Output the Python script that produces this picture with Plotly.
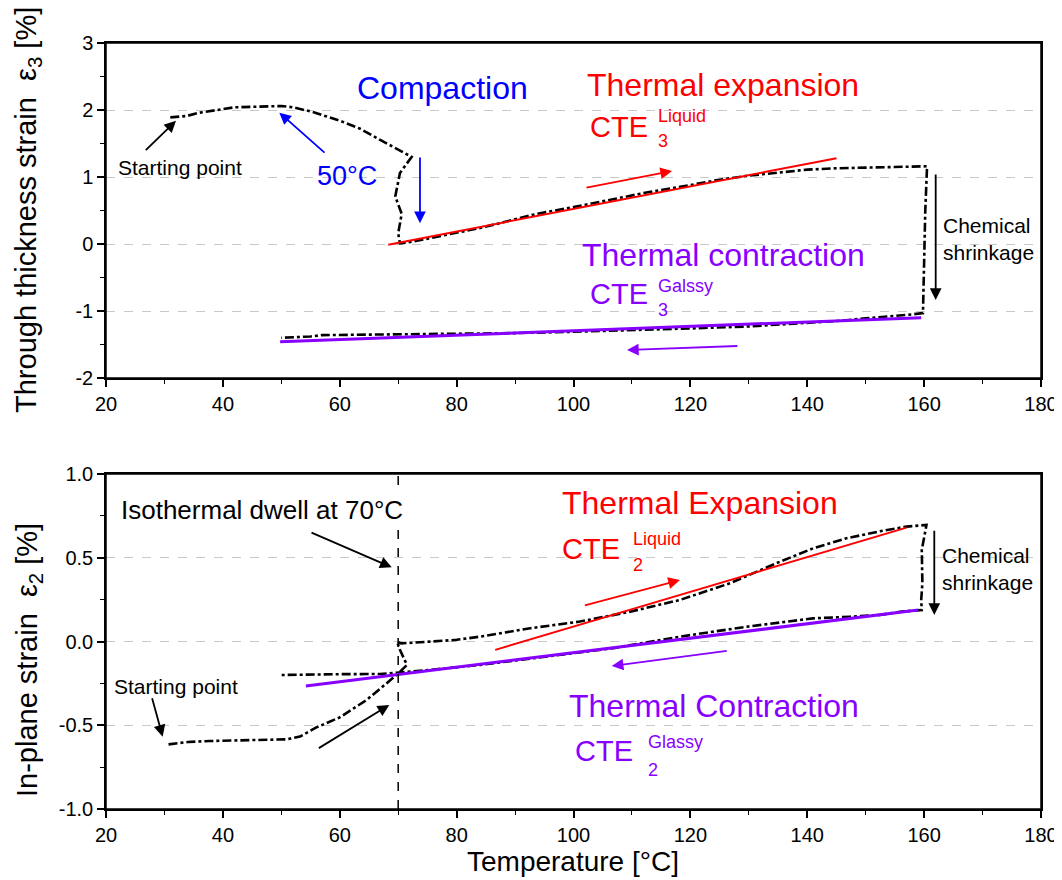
import plotly.graph_objects as go

# ---------------- data ----------------
# Top panel: through-thickness strain eps3 (heating, dwell, cure, cooling)
top_T = [31, 33.8, 36, 38.9, 42, 46, 50, 52, 55.4, 60, 63.5, 67, 70.3, 72.3,
         70.3, 69.5, 70.6, 70.0, 70.3, 71.4, 75, 80, 84.6, 90, 93.7, 100, 104,
         110, 112, 120, 125, 130, 135, 140, 145, 150, 155, 160.5,
         160.2, 160.0, 159.8, 158, 155, 150, 145, 140, 130, 120, 110, 100, 90,
         80, 70, 60, 57, 55, 50]
top_E = [1.89, 1.91, 1.96, 2.00, 2.04, 2.05, 2.06, 2.04, 1.97, 1.84, 1.72, 1.55, 1.40, 1.30,
         1.06, 0.71, 0.45, 0.16, 0.01, 0.02, 0.08, 0.17, 0.25, 0.37, 0.45, 0.55, 0.62,
         0.72, 0.76, 0.88, 0.96, 1.02, 1.07, 1.11, 1.13, 1.14, 1.15, 1.16,
         0.50, -0.20, -1.03, -1.05, -1.07, -1.11, -1.15, -1.18, -1.23, -1.26, -1.29, -1.31, -1.33,
         -1.34, -1.35, -1.36, -1.36, -1.38, -1.40]

# Bottom panel: in-plane strain eps2
bot_T = [30.7, 34, 37.8, 42, 45.2, 50.9, 53.2, 56, 60, 64.6, 68, 69.7, 71.5, 70.3,
         69.8, 70.5, 75.4, 80, 84, 92.6, 101.1, 109.7, 118.2, 126.8, 135.3, 141,
         146.7, 153, 157, 160.4, 159.6, 159.7, 159.5, 159.6, 155.9, 152.4, 147.3,
         141, 129.6, 118.2, 106.8, 95.4, 84, 75.4, 69.7, 66.9, 60, 55, 49.8]
bot_E = [-0.614, -0.60, -0.594, -0.59, -0.588, -0.584, -0.568, -0.513, -0.453, -0.349,
         -0.25, -0.20, -0.14, -0.05, 0.0, -0.011, -0.001, 0.01, 0.029, 0.079, 0.119,
         0.178, 0.248, 0.348, 0.476, 0.556, 0.616, 0.662, 0.686, 0.696, 0.546, 0.347,
         0.248, 0.188, 0.178, 0.158, 0.148, 0.138, 0.088, 0.029, -0.04, -0.09, -0.14,
         -0.17, -0.186, -0.194, -0.195, -0.198, -0.20]

# Linear CTE fits
top_liq_T = [68.3, 145.0]
top_liq_E = [-0.01, 1.28]
top_gla_T = [49.8, 159.5]
top_gla_E = [-1.46, -1.10]
bot_liq_T = [86.6, 157.0]
bot_liq_E = [-0.05, 0.68]
bot_gla_T = [54.2, 159.0]
bot_gla_E = [-0.265, 0.188]

dwell_T = 70

x_ticks = [20, 40, 60, 80, 100, 120, 140, 160, 180]
top_yticks = [-2, -1, 0, 1, 2, 3]
top_ytext = ["-2", "-1", "0", "1", "2", "3"]
bot_yticks = [-1.0, -0.5, 0.0, 0.5, 1.0]
bot_ytext = ["-1.0", "-0.5", "0.0", "0.5", "1.0"]

RED = "#FF0000"
BLUE = "#0000FF"
PURPLE = "#8800FF"
FONT = "Liberation Sans, Arial, sans-serif"

fig = go.Figure()

curve_line = dict(color="black", width=2.6, dash="dashdot")
fig.add_trace(go.Scatter(x=top_T, y=top_E, mode="lines", line=curve_line, xaxis="x", yaxis="y"))
fig.add_trace(go.Scatter(x=top_liq_T, y=top_liq_E, mode="lines", line=dict(color=RED, width=2), xaxis="x", yaxis="y"))
fig.add_trace(go.Scatter(x=top_gla_T, y=top_gla_E, mode="lines", line=dict(color=PURPLE, width=3), xaxis="x", yaxis="y"))

fig.add_trace(go.Scatter(x=bot_T, y=bot_E, mode="lines", line=curve_line, xaxis="x2", yaxis="y2"))
fig.add_trace(go.Scatter(x=bot_liq_T, y=bot_liq_E, mode="lines", line=dict(color=RED, width=2), xaxis="x2", yaxis="y2"))
fig.add_trace(go.Scatter(x=bot_gla_T, y=bot_gla_E, mode="lines", line=dict(color=PURPLE, width=3), xaxis="x2", yaxis="y2"))

# page has an 8px body margin: figure starts at window pixel (8, 8)
OFF = 8
W, H = 1062 - OFF, 880 - OFF

def px(x):
    return (x - OFF) / W

def py(y):
    return 1 - (y - OFF) / H

xdom = [px(106), px(1041)]
top_dom = [py(378), py(43)]
bot_dom = [py(809), py(474)]

tickfont = dict(family=FONT, size=20, color="black")

def xaxis(anchor):
    return dict(domain=xdom, anchor=anchor, range=[20, 180], tickmode="array",
                tickvals=x_ticks, ticktext=[str(v) for v in x_ticks], automargin=False,
                ticklabeloverflow="allow",
                showline=True, linecolor="black", linewidth=1.5, mirror=True,
                ticks="outside", ticklen=7, tickwidth=1.5, tickcolor="black",
                showgrid=False, zeroline=False, tickfont=tickfont,
                minor=dict(tickmode="linear", tick0=0, dtick=10, ticks="outside",
                           ticklen=4, tickwidth=1.2, tickcolor="black", showgrid=False))

def yaxis(anchor, dom, rng, tv, tt, mdt):
    return dict(domain=dom, anchor=anchor, range=rng, tickmode="array",
                tickvals=tv, ticktext=tt, automargin=False,
                ticklabeloverflow="allow",
                showline=True, linecolor="black", linewidth=1.5, mirror=True,
                ticks="outside", ticklen=7, tickwidth=1.5, tickcolor="black",
                showgrid=True, gridcolor="#C8C8C8", griddash="dash", gridwidth=1,
                zeroline=False, tickfont=tickfont,
                minor=dict(tickmode="linear", tick0=0, dtick=mdt, ticks="outside",
                           ticklen=4, tickwidth=1.2, tickcolor="black", showgrid=False))

annotations = []

def txt(x, y, text, color="black", size=21, xref="x", yref="y", xanchor="center", **kw):
    d = dict(x=x, y=y, xref=xref, yref=yref, text=text, showarrow=False,
             font=dict(family=FONT, size=size, color=color), xanchor=xanchor,
             yanchor="middle")
    d.update(kw)
    annotations.append(d)

def arrow(x0, y0, x1, y1, color="black", xref="x", yref="y", width=1.8):
    annotations.append(dict(x=x1, y=y1, ax=x0, ay=y0, xref=xref, yref=yref,
                            axref=xref, ayref=yref, text="", showarrow=True,
                            arrowhead=2, arrowsize=1.3, arrowwidth=width,
                            arrowcolor=color, standoff=0, startstandoff=0))

BIG = 32
# ---- top panel texts ----
txt(77.5, 2.33, "Compaction", BLUE, BIG)
txt(125.6, 2.37, "Thermal expansion", RED, BIG)
txt(107.8, 1.74, "CTE", RED, 29)
txt(114.1, 1.91, "Liquid", RED, 18, xanchor="left")
txt(114.1, 1.53, "3", RED, 18, xanchor="left")
txt(125.75, -0.16, "Thermal contraction", PURPLE, BIG)
txt(107.8, -0.75, "CTE", PURPLE, 29)
txt(114.2, -0.62, "Galssy", PURPLE, 18, xanchor="left")
txt(114.2, -0.99, "3", PURPLE, 18, xanchor="left")
txt(32.7, 1.14, "Starting point", "black", 21)
txt(61.2, 1.02, "50°C", BLUE, 27)
txt(162.9, 0.07, "Chemical<br>shrinkage", "black", 21, xanchor="left", align="left")

arrow(26.55, 1.378, 31.98, 1.84)
arrow(57.65, 1.343, 49.66, 1.96, BLUE)
arrow(73.73, 1.313, 73.73, 0.309, BLUE)
arrow(101.97, 0.836, 116.86, 1.09, RED)
arrow(128.3, -1.522, 109.15, -1.582, PURPLE)
arrow(161.98, 1.06, 161.98, -0.836)

# ---- bottom panel texts ----
txt(46.7, 0.785, "Isothermal dwell at 70°C", "black", 26, xref="x2", yref="y2",
    bgcolor="white")
txt(121.6, 0.827, "Thermal Expansion", RED, BIG, xref="x2", yref="y2")
txt(103.0, 0.55, "CTE", RED, 29, xref="x2", yref="y2")
txt(109.9, 0.61, "Liquid", RED, 18, xref="x2", yref="y2", xanchor="left")
txt(109.9, 0.455, "2", RED, 18, xref="x2", yref="y2", xanchor="left")
txt(124.0, -0.385, "Thermal Contraction", PURPLE, BIG, xref="x2", yref="y2")
txt(105.2, -0.655, "CTE", PURPLE, 29, xref="x2", yref="y2")
txt(112.4, -0.6, "Glassy", PURPLE, 18, xref="x2", yref="y2", xanchor="left")
txt(112.4, -0.768, "2", PURPLE, 18, xref="x2", yref="y2", xanchor="left")
txt(32.0, -0.266, "Starting point", "black", 21, xref="x2", yref="y2")
txt(162.7, 0.435, "Chemical<br>shrinkage", "black", 21, xref="x2", yref="y2",
    xanchor="left", align="left")

arrow(54.91, 0.654, 68.89, 0.443, xref="x2", yref="y2")
arrow(27.82, -0.33, 29.70, -0.568, xref="x2", yref="y2")
arrow(56.16, -0.642, 68.48, -0.379, xref="x2", yref="y2")
arrow(101.68, 0.214, 118.22, 0.367, RED, xref="x2", yref="y2")
arrow(126.49, -0.055, 106.54, -0.146, PURPLE, xref="x2", yref="y2")
arrow(161.74, 0.67, 161.74, 0.158, xref="x2", yref="y2")

# ---- axis titles ----
txt(px(28), py(210), "Through thickness strain  ε<sub>3</sub> [%]", "black", 29,
    xref="paper", yref="paper", textangle=-90)
txt(px(29), py(660), "In-plane strain  ε<sub>2</sub> [%]", "black", 29,
    xref="paper", yref="paper", textangle=-90)
txt(px(573), py(861), "Temperature [°C]", "black", 28, xref="paper", yref="paper")

frame = dict(color="black", width=1.5)
shapes = [dict(type="line", xref="x2", yref="y2", x0=dwell_T, x1=dwell_T, y0=-1, y1=1,
               line=dict(color="black", width=1.5, dash="dash"), layer="above"),
          dict(type="rect", xref="x domain", yref="y domain", x0=0, x1=1, y0=0, y1=1,
               line=frame, layer="above"),
          dict(type="rect", xref="x2 domain", yref="y2 domain", x0=0, x1=1, y0=0, y1=1,
               line=frame, layer="above")]

fig.update_layout(
    width=W, height=H, margin=dict(l=0, r=0, t=0, b=0, autoexpand=False),
    paper_bgcolor="white", plot_bgcolor="white", showlegend=False,
    font=dict(family=FONT, color="black"),
    xaxis=xaxis("y"), yaxis=yaxis("x", top_dom, [-2, 3], top_yticks, top_ytext, 0.5),
    xaxis2=xaxis("y2"), yaxis2=yaxis("x2", bot_dom, [-1, 1], bot_yticks, bot_ytext, 0.25),
    annotations=annotations, shapes=shapes,
)

fig.write_html("out.html")
